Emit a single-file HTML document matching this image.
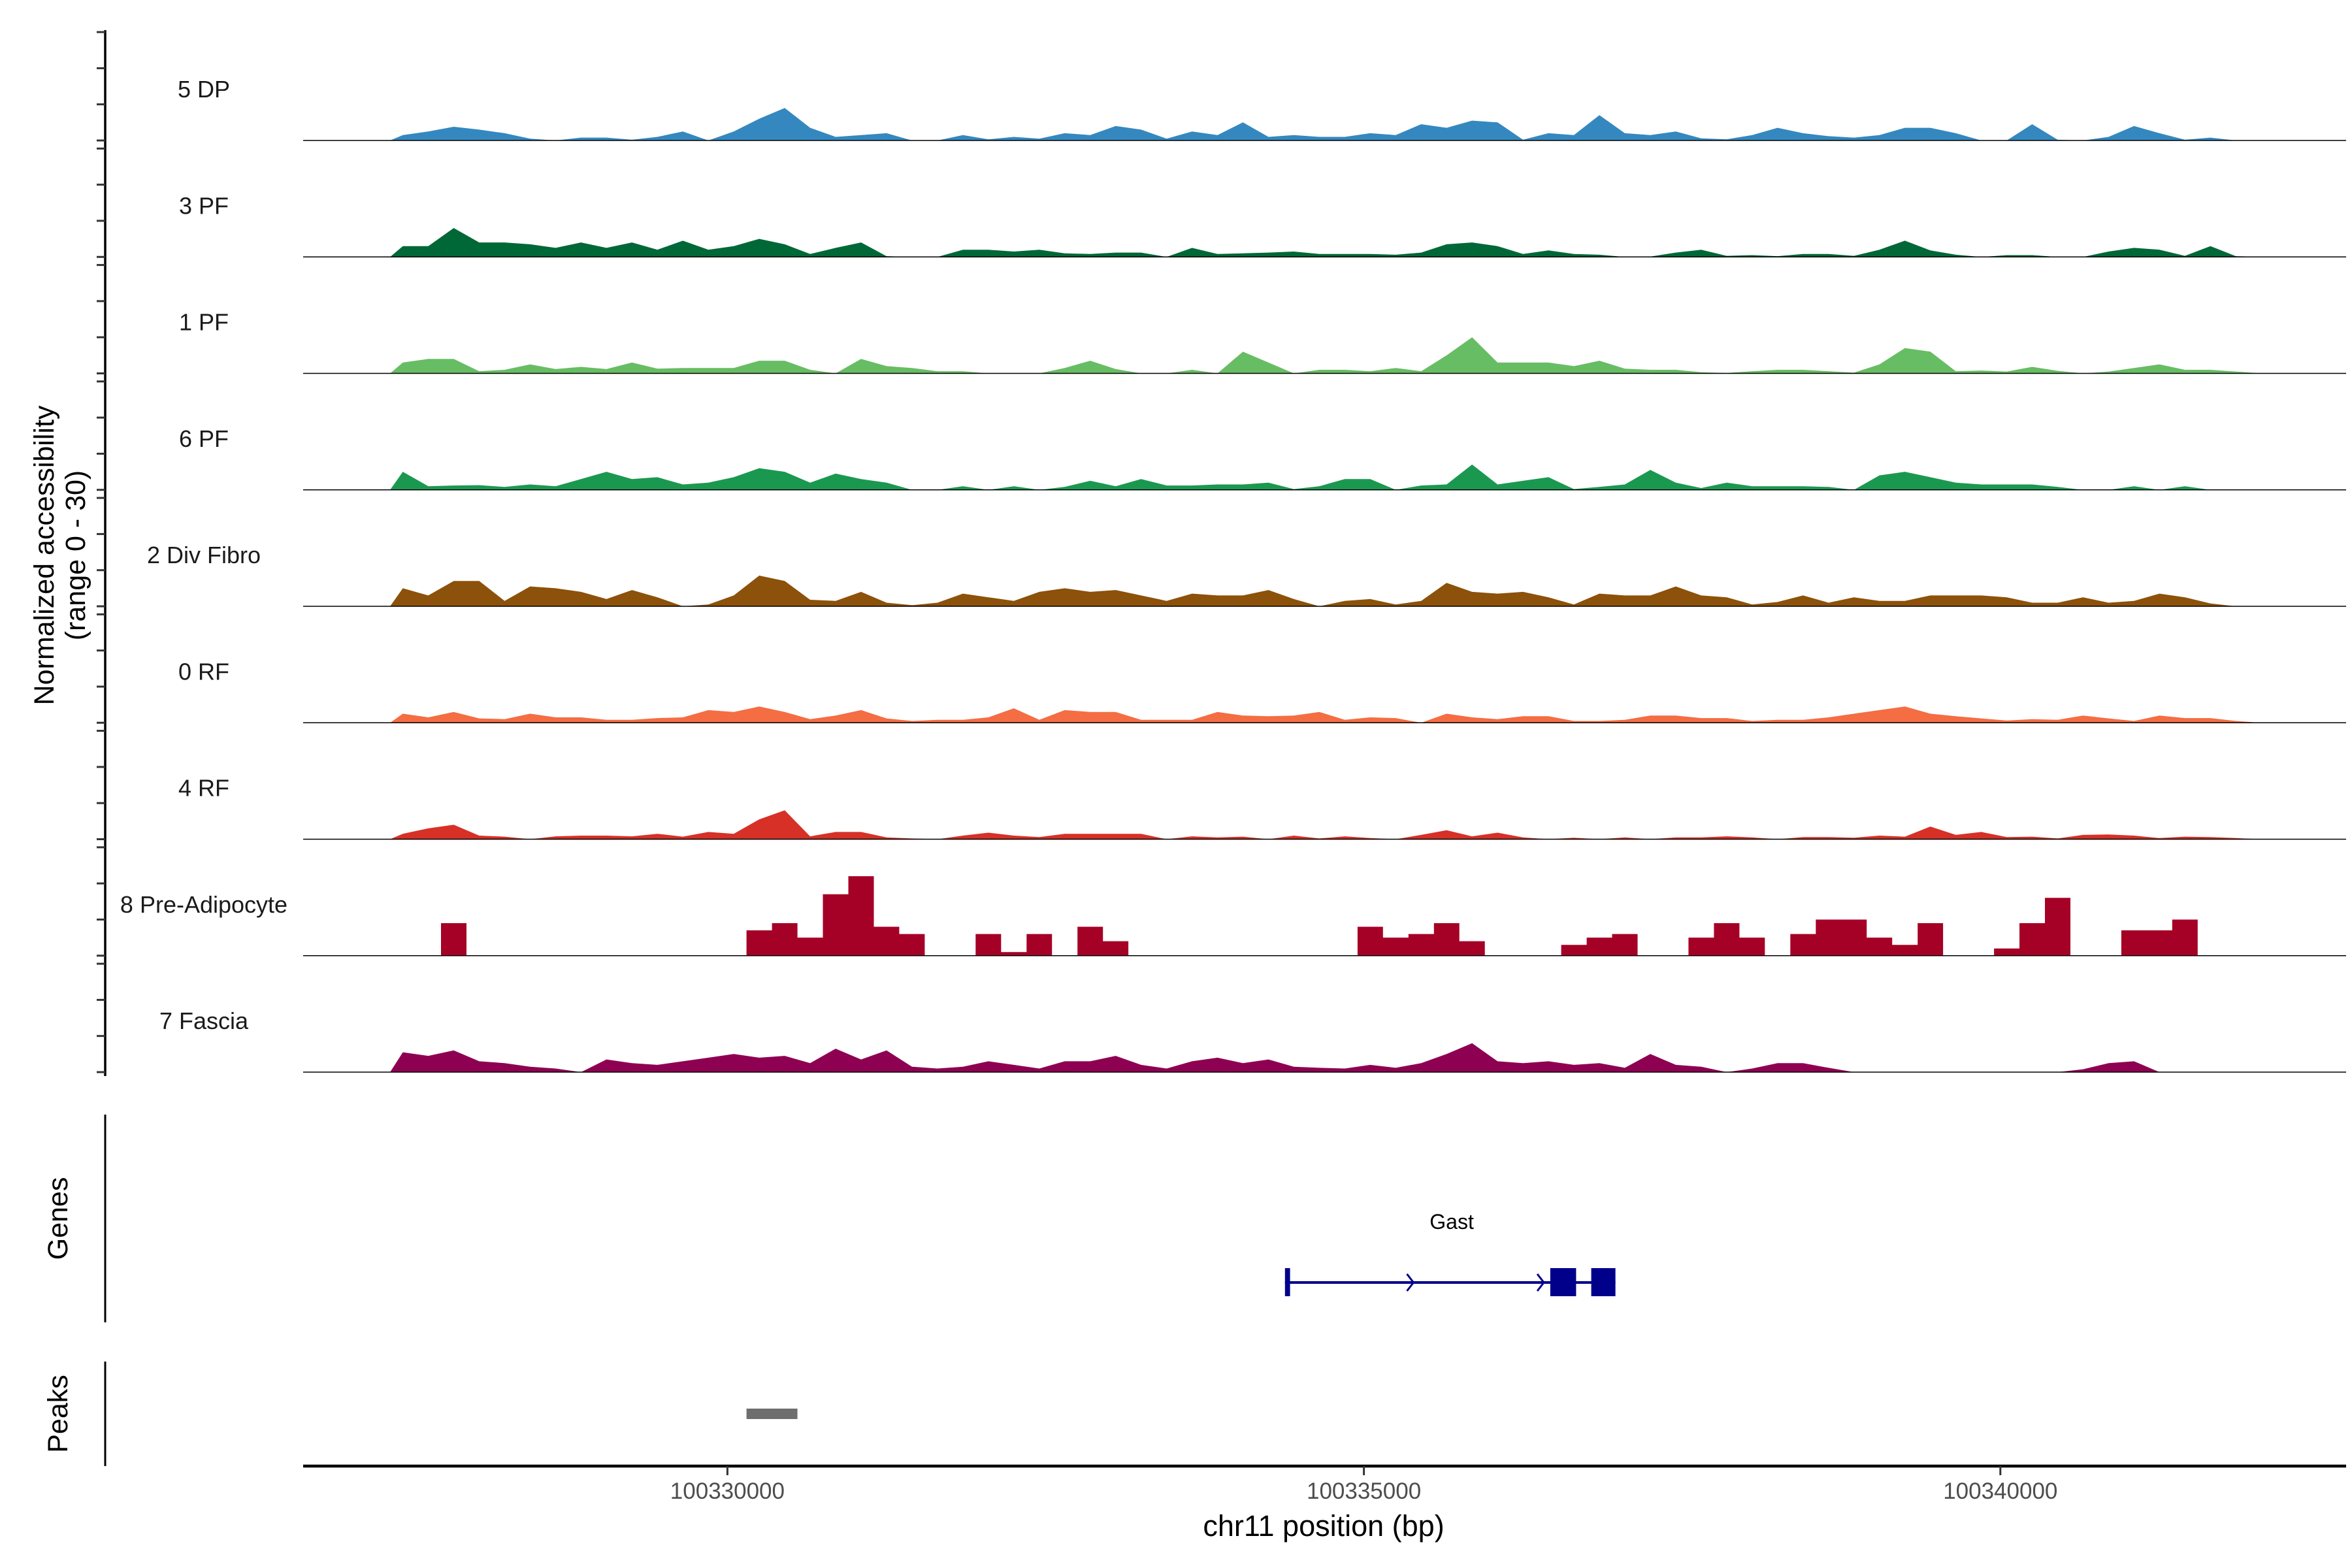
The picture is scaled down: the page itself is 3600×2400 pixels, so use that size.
<!DOCTYPE html>
<html><head><meta charset="utf-8"><style>
html,body{margin:0;padding:0;background:#fff}
svg{display:block}
text{font-family:"Liberation Sans",Arial,sans-serif}
</style></head><body>
<svg id="chart" width="3600" height="2400" viewBox="0 0 3600 2400" xmlns="http://www.w3.org/2000/svg">
<rect x="0" y="0" width="3600" height="2400" fill="#fff"/>
<g id="tracks"></g>
<g id="yaxis"></g>
<text transform="translate(82,850) rotate(-90)" text-anchor="middle" font-size="43" fill="#000">Normalized accessibility</text>
<text transform="translate(130,850) rotate(-90)" text-anchor="middle" font-size="43" fill="#000">(range 0 - 30)</text>
<line x1="161" y1="1706" x2="161" y2="2024" stroke="#000" stroke-width="3"/>
<text transform="translate(103,1865) rotate(-90)" text-anchor="middle" font-size="43" fill="#000">Genes</text>
<line x1="161" y1="2084" x2="161" y2="2244" stroke="#000" stroke-width="3"/>
<text transform="translate(103,2164) rotate(-90)" text-anchor="middle" font-size="43" fill="#000">Peaks</text>
<g id="gene"></g>
<g id="peaks"></g>
<g id="xaxis"></g>
<text x="2026" y="2351" text-anchor="middle" font-size="45" fill="#000">chr11 position (bp)</text>
</svg>
<script>
const NS = "http://www.w3.org/2000/svg";
// ---- data ----
const trackNames = ["5 DP","3 PF","1 PF","6 PF","2 Div Fibro","0 RF","4 RF","8 Pre-Adipocyte","7 Fascia"];
const trackColors = ["#3488bf","#006837","#67bd63","#1b9850","#8c510a","#f46d43","#d73027","#a50026","#8e0152"];
const binStartBp = 100327350;
const binSizeBp = 200;
const dp = [1.5,2.5,3.8,3,2,0.5,0,0.8,0.8,0.2,1,2.5,0,2.5,6,9,3.5,1,1.5,2,0,0,1.5,0.3,1,0.5,2,1.5,4,3,0.5,2.5,1.5,5,1,1.5,1,1,2,1.5,4.5,3.5,5.5,5,0.2,2,1.5,7,2,1.5,2.5,0.6,0.3,1.5,3.5,2,1.2,0.8,1.5,3.5,3.5,2,0,0,4.5,0.2,0,1,4,2,0.2,0.8,0,0];
const pf3 = [3,3,8,4,4,3.5,2.5,4,2.5,4,2,4.5,2,3,5,3.5,0.8,2.5,4,0.2,0,0,2,2,1.5,2,1,0.8,1.2,1.2,0,2.5,0.8,1,1.2,1.5,0.8,0.8,0.8,0.6,1.2,3.5,4,3,0.8,1.8,0.8,0.6,0,0.1,1.2,2,0.3,0.5,0.2,0.8,0.8,0.3,2,4.5,1.8,0.6,0,0.5,0.5,0,0,1.5,2.5,2,0.3,3,0.2,0];
const pf1 = [3,4,4,0.6,1,2.5,1.2,1.8,1.2,3,1.3,1.5,1.5,1.5,3.5,3.5,1,0,4,2,1.5,0.6,0.6,0,0,0,1.5,3.5,1.2,0,0,1,0,6,3,0,1,1,0.6,1.5,0.6,5,10,3,3,3,2,3.5,1.3,1,1,0.3,0.1,0.6,1,1,0.6,0.2,2.5,7,6,0.6,0.8,0.5,1.8,0.7,0,0.5,1.5,2.5,1,1,0.5,0];
const pf6 = [5,1,1.2,1.3,0.8,1.5,1,3,5,3,3.5,1.5,2,3.5,6,5,2,4.5,3,2,0,0,1,0,1,0,0.8,2.5,1,3,1.2,1.2,1.5,1.5,2,0.2,1,3,3,0,1.2,1.5,7,1.5,2.5,3.5,0.2,0.8,1.5,5.5,2,0.5,2,1,1,1,0.8,0,4,5,3.5,2,1.5,1.5,1.5,0.8,0,0,1,0,1,0,0,0];
const divFibro = [5,3,7,7,1.5,5.5,5,4,2,4.5,2.5,0,0.5,3,8.5,7,1.8,1.5,4,1,0.3,1,3.5,2.5,1.5,4,5,4,4.5,3,1.5,3.5,3,3,4.5,2,0,1.5,2,0.5,1.5,6.5,4,3.5,4,2.5,0.5,3.5,3,3,5.5,3,2.5,0.5,1.2,3,1,2.5,1.5,1.5,3,3,3,2.5,1,1,2.5,1,1.5,3.5,2.5,0.8,0,0];
const rf0 = [2.5,1.5,3,1.2,1,2.5,1.5,1.5,0.8,0.8,1.3,1.5,3.5,3,4.5,3,1,2,3.5,1.2,0.5,0.8,0.8,1.5,4,0.8,3.5,3,3,0.8,0.8,0.8,3,2,1.8,2,3,0.8,1.5,1.3,0,2.5,1.5,1,1.8,1.8,0.5,0.5,0.8,2,2,1.3,1.3,0.5,0.8,0.8,1.5,2.5,3.5,4.5,2.5,1.8,1.2,0.6,1,0.8,2,1.2,0.5,2,1.3,1.3,0.5,0];
const rf4 = [1.5,3,4,1,0.7,0,0.8,1,1,0.8,1.5,0.7,2,1.5,5.5,8,0.8,2,2,0.5,0.2,0,1,1.8,1,0.6,1.5,1.5,1.5,1.5,0,0.8,0.5,0.7,0,1,0.2,0.8,0.3,0,1.2,2.5,0.8,1.8,0.5,0,0.4,0,0.5,0,0.5,0.5,0.8,0.5,0,0.6,0.6,0.4,1,0.7,3.5,1.2,2,0.6,0.7,0.2,1.2,1.3,1,0.3,0.7,0.6,0.3,0];
const preAdipocyte = [0,0,9,0,0,0,0,0,0,0,0,0,0,0,7,9,5,17,22,8,6,0,0,6,1,6,0,8,4,0,0,0,0,0,0,0,0,0,8,5,6,9,4,0,0,0,3,5,6,0,0,5,9,5,0,6,10,10,5,3,9,0,0,2,9,16,0,0,7,7,10,0,0,0];
const fascia = [5.5,4.5,6,3,2.5,1.5,1,0,3.5,2.5,2,3,4,5,4,4.5,2.5,6.5,3.5,6,1.5,1,1.5,3,2,1,3,3,4.5,2,1,3,4,2.5,3.5,1.5,1.2,1,2,1.2,2.5,5,8,3,2.5,3,2,2.5,1.2,5,2,1.5,0,1,2.5,2.5,1.2,0,0,0,0,0,0,0,0,0,0.8,2.5,3,0,0,0,0,0];
const trackSeries = [dp,pf3,pf1,pf6,divFibro,rf0,rf4,preAdipocyte,fascia];
const trackStep = [false,false,false,false,false,false,false,true,false];
const xTicks = [100330000,100335000,100340000];
const xTickLabels = ["100330000","100335000","100340000"];
const yTicks = [0,10,20,30];
const geneExons = [[100334380,100334420],[100336464,100336667],[100336786,100336976]];
const geneSpan = [100334380,100336976];
const geneArrows = [100335369,100336393];
const geneLabelBp = 100335690;
const peakRegions = [[100330150,100330550]];

// ---- scales ----
const X0 = 1113.4, PXPERBP = 0.19484;
function xs(bp){ return X0 + (bp-100330000)*PXPERBP; }
const B0 = 215, TRACKGAP = 178.25, UNITPX = 5.53;
function base(k){ return B0 + k*TRACKGAP; }
function ys(k,v){ return base(k) - v*UNITPX; }

function mk(tag, attrs, parent){
  const e = document.createElementNS(NS, tag);
  for (const a in attrs) e.setAttribute(a, attrs[a]);
  parent.appendChild(e); return e;
}

// ---- tracks ----
const tg = document.getElementById('tracks');
trackSeries.forEach((vals,k)=>{
  const g = mk('g',{},tg);
  
  
  const b = base(k);
  let d = '';
  if (trackStep[k]) {
    vals.forEach((v,i)=>{
      if (v<=0) return;
      const x1 = xs(binStartBp+i*binSizeBp), x2 = xs(binStartBp+(i+1)*binSizeBp);
      d += `M${x1.toFixed(1)},${b}L${x1.toFixed(1)},${ys(k,v).toFixed(1)}L${x2.toFixed(1)},${ys(k,v).toFixed(1)}L${x2.toFixed(1)},${b}Z`;
    });
  } else {
    const xa = xs(binStartBp);
    d = `M${xa.toFixed(1)},${b}`;
    vals.forEach((v,i)=>{
      const xc = xs(binStartBp+(i+0.5)*binSizeBp);
      d += `L${xc.toFixed(1)},${ys(k,v).toFixed(1)}`;
    });
    d += `L${xs(binStartBp+vals.length*binSizeBp).toFixed(1)},${b}Z`;
  }
  const area = mk('path',{d:d, fill:trackColors[k], stroke:'none'},g);
  
  
  const bl = mk('line',{x1:464,x2:3591,y1:b,y2:b,stroke:'#000','stroke-width':1.6},g);
  
  
  const lab = mk('text',{x:312,y:b-66,'text-anchor':'middle','font-size':36,fill:'#1a1a1a'},g);
  lab.textContent = trackNames[k];
  
  
});

// ---- y axis ----
const ya = document.getElementById('yaxis');
const axl = mk('line',{x1:161,x2:161,y1:base(0)-yTicks[yTicks.length-1]*UNITPX-3,y2:base(8)+6,stroke:'#000','stroke-width':3.5},ya);


trackSeries.forEach((_,k)=>{
  yTicks.forEach(t=>{
    const y = ys(k,t);
    const tk = mk('line',{x1:148,x2:161,y1:y,y2:y,stroke:'#333','stroke-width':3},ya);
    
    
  });
});

// ---- gene ----
const gg = document.getElementById('gene');
const gy = 1963, gcol = '#00008b';
const gl = mk('line',{x1:xs(geneSpan[0]),x2:xs(geneSpan[1]),y1:gy,y2:gy,stroke:gcol,'stroke-width':4},gg);


geneExons.forEach(ex=>{
  const x1 = xs(ex[0]), x2 = xs(ex[1]);
  const w = Math.max(x2-x1, 6);
  const r = mk('rect',{x:x1,y:1941,width:w,height:43,fill:gcol},gg);
  
  
});
geneArrows.forEach(bp=>{
  const x = xs(bp);
  const p = mk('path',{d:`M${x-6},${gy-13}L${x+4},${gy}L${x-6},${gy+13}`,fill:'none',stroke:gcol,'stroke-width':3},gg);
  
  
});
const gt = mk('text',{x:xs(geneLabelBp),y:1881,'text-anchor':'middle','font-size':32,fill:'#000'},gg);
gt.textContent = 'Gast';



// ---- peaks ----
const pg = document.getElementById('peaks');
peakRegions.forEach(pr=>{
  const r = mk('rect',{x:xs(pr[0]),y:2156,width:xs(pr[1])-xs(pr[0]),height:16,fill:'#6e6e6e'},pg);
  
  
});

// ---- x axis ----
const xg = document.getElementById('xaxis');
const xl = mk('line',{x1:464,x2:3591,y1:2244,y2:2244,stroke:'#000','stroke-width':4.5},xg);


xTicks.forEach((t,i)=>{
  const x = xs(t);
  const tk = mk('line',{x1:x,x2:x,y1:2244,y2:2258,stroke:'#333','stroke-width':3},xg);
  
  
  const tl = mk('text',{x:x,y:2294,'text-anchor':'middle','font-size':35,fill:'#4d4d4d'},xg);
  tl.textContent = xTickLabels[i];
  
  
});
</script>
</body></html>
